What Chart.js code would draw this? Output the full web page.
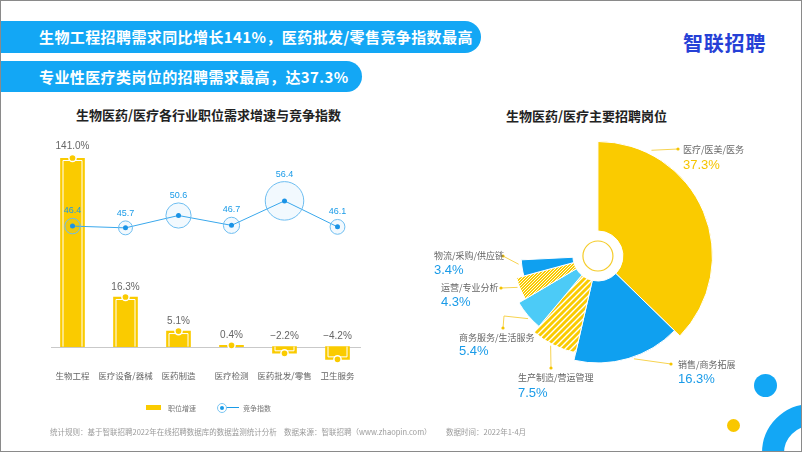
<!DOCTYPE html>
<html>
<head>
<meta charset="utf-8">
<script src="https://cdn.jsdelivr.net/npm/chart.js@4.4.0/dist/chart.umd.min.js"></script>
<style>
  html, body { margin: 0; padding: 0; background: #fff; }
  #page { position: relative; width: 802px; height: 452px; overflow: hidden; box-sizing: border-box; border: 1px solid #8a8a8a; font-family: 'Noto Sans CJK SC', 'Noto Sans', sans-serif; }
  .abs { position: absolute; }
  canvas { position: absolute; left: 0; top: 0; }
  .banner { background: #13a7f5; color: #fff; font-weight: bold; font-size: 15px; line-height: 32px; padding-left: 39px; border-radius: 0 16px 16px 0; letter-spacing: 0.4px; }
  .title { font-weight: bold; font-size: 13px; color: #222; white-space: nowrap; }
  .foot { font-size: 7.5px; color: #9a9a9a; white-space: nowrap; top: 425px; }
  .leg { font-size: 7px; color: #777; top: 402px; white-space: nowrap; }
</style>
</head>
<body>
<div id="page">
  <div class="abs banner" style="left:-1px;top:20px;width:442px;height:32px;">生物工程招聘需求同比增长141%，医药批发/零售竞争指数最高</div>
  <div class="abs banner" style="left:-1px;top:60px;width:323px;height:31px;line-height:31px;">专业性医疗类岗位的招聘需求最高，达37.3%</div>
  <div class="abs" style="left:682px;top:27px;font-size:20px;font-weight:bold;color:#2540d6;letter-spacing:0.8px;">智联招聘</div>

  <div class="abs title" style="left:75px;top:104px;">生物医药/医疗各行业职位需求增速与竞争指数</div>
  <div class="abs title" style="left:505px;top:105px;">生物医药/医疗主要招聘岗位</div>

  <canvas id="bar" width="802" height="452"></canvas>
  <canvas id="rose" width="802" height="452"></canvas>

  <div class="abs" style="left:145px;top:404px;width:15px;height:5px;background:#facb00;"></div>
  <div class="abs leg" style="left:167px;">职位增速</div>
  <div class="abs" style="left:225px;top:406px;width:13px;height:1px;background:#1a9be8;"></div>
  <div class="abs" style="left:216px;top:402px;width:8px;height:8px;border:1px solid #7cc6f2;border-radius:50%;"></div>
  <div class="abs" style="left:219px;top:405px;width:4px;height:4px;background:#1a9be8;border-radius:50%;"></div>
  <div class="abs leg" style="left:242px;">竞争指数</div>

  <div class="abs foot" style="left:49px;">统计规则：基于智联招聘2022年在线招聘数据库的数据监测统计分析</div>
  <div class="abs foot" style="left:283px;">数据来源：智联招聘（www.zhaopin.com）</div>
  <div class="abs foot" style="left:445px;">数据时间：2022年1-4月</div>

  <div class="abs" style="left:753px;top:373px;width:23px;height:23px;border-radius:50%;background:#13a7f5;"></div>
  <div class="abs" style="left:726px;top:418px;width:13px;height:13px;border-radius:50%;background:#f9c700;"></div>
  <div class="abs" style="left:761px;top:403px;width:98px;height:98px;border-radius:50%;box-sizing:border-box;border:22px solid #13a7f5;"></div>
</div>

<script>
// left chart: growth of job demand and competition index
const industries = ['生物工程', '医疗设备/器械', '医药制造', '医疗检测', '医药批发/零售', '卫生服务'];
const growth = [141.0, 16.3, 5.1, 0.4, -2.2, -4.2];
const compIndex = [46.4, 45.7, 50.6, 46.7, 56.4, 46.1];

// right chart: main recruiting positions
const roles = ['医疗/医美/医务', '销售/商务拓展', '生产制造/营运管理', '商务服务/生活服务', '运营/专业分析', '物流/采购/供应链'];
const roleShare = [37.3, 16.3, 7.5, 5.4, 4.3, 3.4];

const yellow = '#facb00';
const blue = '#1a9be8';
const numFont = "'Liberation Sans', 'Noto Sans CJK SC', sans-serif";
Chart.defaults.font.family = numFont;

function ringR(v) {
  return 5 + (v - 44) * 1.15;
}

const barDeco = {
  id: 'barDeco',
  beforeDatasetsDraw(chart) {
    const {ctx, chartArea} = chart;
    const zy = Math.round(chart.scales.y.getPixelForValue(0)) + 0.5;
    ctx.save();
    ctx.strokeStyle = '#c9c9c9';
    ctx.lineWidth = 1;
    ctx.beginPath();
    ctx.moveTo(chartArea.left + 5, zy);
    ctx.lineTo(chartArea.right - 3, zy);
    ctx.stroke();
    ctx.restore();
  },
  afterDatasetDraw(chart, args) {
    if (args.index !== 0) return;
    const {ctx, chartArea} = chart;
    args.meta.data.forEach((bar, i) => {
      const top = Math.max(Math.min(bar.y, bar.base), chartArea.top);
      const bottom = Math.max(bar.y, bar.base);
      const l = bar.x - bar.width / 2, r = bar.x + bar.width / 2;
      ctx.save();
      ctx.strokeStyle = '#fff';
      ctx.lineWidth = 1;
      if (bottom - top > 5) {
        ctx.beginPath();
        if (growth[i] >= 0) {
          ctx.moveTo(l + 2.5, bottom);
          ctx.lineTo(l + 2.5, top + 2.5);
          ctx.lineTo(r - 2.5, top + 2.5);
          ctx.lineTo(r - 2.5, bottom);
        } else {
          ctx.moveTo(l + 2.5, top);
          ctx.lineTo(l + 2.5, bottom - 2.5);
          ctx.lineTo(r - 2.5, bottom - 2.5);
          ctx.lineTo(r - 2.5, top);
        }
        ctx.stroke();
      }
      const ky = growth[i] >= 0 ? top : bottom;
      ctx.beginPath();
      ctx.arc(bar.x, ky, 3.6, 0, Math.PI * 2);
      ctx.fillStyle = yellow;
      ctx.fill();
      ctx.lineWidth = 1.5;
      ctx.stroke();
      ctx.restore();
    });
  },
  afterDraw(chart) {
    const {ctx, chartArea} = chart;
    ctx.save();
    ctx.textAlign = 'center';
    ctx.textBaseline = 'bottom';
    ctx.font = '10px ' + numFont;
    ctx.fillStyle = '#666';
    chart.getDatasetMeta(0).data.forEach((bar, i) => {
      const edge = Math.max(Math.min(bar.y, bar.base), chartArea.top - 2);
      ctx.fillText(growth[i].toFixed(1).replace('-', '\u2212') + '%', bar.x, edge - 5);
    });
    ctx.font = '9px ' + numFont;
    ctx.fillStyle = blue;
    chart.getDatasetMeta(2).data.forEach((pt, i) => {
      ctx.fillText(compIndex[i].toFixed(1), pt.x, pt.y - ringR(compIndex[i]) - 3);
    });
    ctx.restore();
  }
};

new Chart(document.getElementById('bar'), {
  type: 'bar',
  data: {
    labels: industries,
    datasets: [
      {type: 'bar', label: '职位增速', data: growth, backgroundColor: yellow, barThickness: 24, yAxisID: 'y', order: 3},
      {type: 'line', label: '竞争指数', data: compIndex, yAxisID: 'y1', borderColor: '#3aa8ec', borderWidth: 1,
        pointRadius: c => ringR(c.raw), pointBackgroundColor: 'rgba(26,160,236,0.06)',
        pointBorderColor: '#6dbdf0', pointBorderWidth: 1, order: 2, clip: false},
      {type: 'line', label: '', data: compIndex, yAxisID: 'y1', showLine: false, pointRadius: 2.5,
        pointBackgroundColor: '#1a93e6', pointBorderWidth: 0, order: 1, clip: false}
    ]
  },
  options: {
    responsive: false,
    animation: false,
    events: [],
    layout: {padding: {left: 45, right: 439, top: 157, bottom: 71}},
    plugins: {legend: {display: false}, tooltip: {enabled: false}},
    scales: {
      x: {
        grid: {display: false},
        border: {display: false},
        ticks: {color: '#666', font: {size: 8.5, family: "'Noto Sans CJK SC', sans-serif"}, padding: 1, maxRotation: 0, autoSkip: false}
      },
      y: {display: false, min: -5, max: 62},
      y1: {display: false, min: -7.4, max: 73.4}
    }
  },
  plugins: [barDeco]
});

// right chart: rose-style pie, angle by share, radius stepping down by rank
function hatch(size, lw) {
  const c = document.createElement('canvas');
  c.width = c.height = size;
  const g = c.getContext('2d');
  g.fillStyle = yellow;
  g.fillRect(0, 0, size, size);
  g.strokeStyle = '#fff';
  g.lineWidth = lw;
  g.beginPath();
  g.moveTo(0, size); g.lineTo(size, 0);
  g.moveTo(-1, 1); g.lineTo(1, -1);
  g.moveTo(size - 1, size + 1); g.lineTo(size + 1, size - 1);
  g.stroke();
  return document.getElementById('rose').getContext('2d').createPattern(c, 'repeat');
}

const roseColors = [yellow, '#0fa0f0', hatch(6, 1.4), '#4ccbf7', hatch(3, 0.9), '#0fa0f0'];

// where each label's leader line goes: fraction across the slice, elbow/dot points, text spot
const leaderLayout = [
  {f: 0.2, gap: 4, pts: [[677, 148]], tx: 682, ty: 149, vy: 164},
  {f: 0.45, gap: 2, pts: [[670, 363]], tx: 677, ty: 364, vy: 378},
  {f: 0.55, gap: 2, pts: [[550, 367]], tx: 517, ty: 377, vy: 392},
  {f: 0.42, gap: 2, pts: [[503, 315], [502, 327]], tx: 458, ty: 337, vy: 350},
  {f: 0.6, gap: 2, pts: [[500, 287]], tx: 440, ty: 287, vy: 301},
  {f: 0.75, gap: 3, pts: [[502, 255]], tx: 433, ty: 255, vy: 269}
];

const roseDeco = {
  id: 'roseDeco',
  afterDatasetUpdate(chart, args) {
    const arcs = args.meta.data;
    const R = arcs[0].outerRadius;
    arcs.forEach((a, i) => { a.outerRadius = R * (1 - 0.066 * i); });
  },
  afterDraw(chart) {
    const {ctx} = chart;
    const arcs = chart.getDatasetMeta(0).data;
    const cx = arcs[0].x, cy = arcs[0].y;
    ctx.save();
    ctx.strokeStyle = '#f5cc2a';
    ctx.lineWidth = 1.2;
    ctx.beginPath();
    ctx.arc(cx, cy, 15, 0, Math.PI * 2);
    ctx.stroke();

    arcs.forEach((a, i) => {
      const L = leaderLayout[i];
      const ang = a.startAngle + L.f * (a.endAngle - a.startAngle);
      const r = a.outerRadius + L.gap;
      ctx.strokeStyle = '#f7d350';
      ctx.lineWidth = 1;
      ctx.beginPath();
      ctx.moveTo(cx + r * Math.cos(ang), cy + r * Math.sin(ang));
      L.pts.forEach(p => ctx.lineTo(p[0], p[1]));
      ctx.stroke();
      const d = L.pts[L.pts.length - 1];
      ctx.fillStyle = '#f5c400';
      ctx.beginPath();
      ctx.arc(d[0], d[1], 1.6, 0, Math.PI * 2);
      ctx.fill();

      ctx.textAlign = 'left';
      ctx.textBaseline = 'middle';
      ctx.fillStyle = '#666';
      ctx.font = "9px 'Noto Sans CJK SC', sans-serif";
      ctx.fillText(roles[i], L.tx, L.ty);
      ctx.fillStyle = i === 0 ? '#f5c400' : blue;
      ctx.font = '13px ' + numFont;
      ctx.fillText(roleShare[i].toFixed(1) + '%', L.tx, L.vy);
    });
    ctx.restore();
  }
};

new Chart(document.getElementById('rose'), {
  type: 'doughnut',
  data: {
    labels: roles,
    datasets: [{data: roleShare, backgroundColor: roseColors, borderColor: '#fff', borderWidth: 1}]
  },
  options: {
    responsive: false,
    animation: false,
    events: [],
    cutout: 25,
    rotation: 0,
    circumference: roleShare.reduce((s, v) => s + v, 0) / 100 * 360,
    layout: {padding: {left: 482, right: 90, top: 140, bottom: 82}},
    plugins: {legend: {display: false}, tooltip: {enabled: false}}
  },
  plugins: [roseDeco]
});
</script>
</body>
</html>
